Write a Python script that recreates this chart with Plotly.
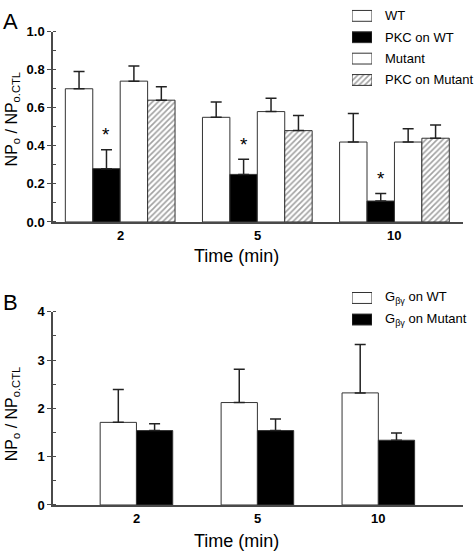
import plotly.graph_objects as go

# ---------------- data ----------------
times = ["2", "5", "10"]

# Panel A
a_names = ["WT", "PKC on WT", "Mutant", "PKC on Mutant"]
a_wt = [0.70, 0.55, 0.42]
a_wt_err = [0.09, 0.08, 0.15]
a_pkc_wt = [0.28, 0.25, 0.11]
a_pkc_wt_err = [0.10, 0.08, 0.04]
a_mut = [0.74, 0.58, 0.42]
a_mut_err = [0.08, 0.07, 0.07]
a_pkc_mut = [0.64, 0.48, 0.44]
a_pkc_mut_err = [0.07, 0.08, 0.07]
a_signif = [True, True, True]  # stars over "PKC on WT"

# Panel B
b_names = ["G<sub>βγ</sub> on WT", "G<sub>βγ</sub> on Mutant"]
b_wt = [1.71, 2.12, 2.32]
b_wt_err = [0.68, 0.69, 1.00]
b_mut = [1.54, 1.54, 1.34]
b_mut_err = [0.14, 0.24, 0.15]

# ---------------- layout helpers (pixel -> paper) ----------------
W, H = 475, 554
ML, MR, MT, MB = 53, 12, 0, 49
PW, PH = W - ML - MR, H - MT - MB


def px(x):
    return (x - ML) / PW


def py(y):
    return (H - MB - y) / PH


FONT = "Liberation Sans, Arial, sans-serif"
EDGE = "#333333"
AXC = "#4a4a4a"
HATCH = dict(fgcolor="#444444", bgcolor="white", size=4, solidity=0.4)

fig = go.Figure()
idx = list(range(len(times)))


def add_bar(x, y, err, fill, pattern, width, offset, xa, ya):
    fig.add_trace(go.Bar(
        x=x, y=y, width=width, offset=offset,
        marker=dict(color=fill, line=dict(color=EDGE, width=1),
                    pattern=dict(shape=pattern, **HATCH) if pattern else None),
        error_y=dict(type="data", array=err, arrayminus=[0] * len(err), symmetric=False,
                     color="#222222", thickness=1.5, width=5.5),
        xaxis=xa, yaxis=ya, showlegend=False, hoverinfo="skip"))


# Panel A bars (4 per group, width 0.2)
a_series = [(a_wt, a_wt_err, "white", ""), (a_pkc_wt, a_pkc_wt_err, "black", ""),
            (a_mut, a_mut_err, "white", ""), (a_pkc_mut, a_pkc_mut_err, "white", "/")]
for k, (vals, errs, fill, pat) in enumerate(a_series):
    add_bar(idx, vals, errs, fill, pat, 0.2, -0.4 + 0.2 * k, "x", "y")

# Panel B bars (2 per group, width 0.3)
b_series = [(b_wt, b_wt_err, "white"), (b_mut, b_mut_err, "black")]
for k, (vals, errs, fill) in enumerate(b_series):
    add_bar(idx, vals, errs, fill, "", 0.3, -0.3 + 0.3 * k, "x2", "y2")

# category labels placed in data coordinates under each group
tickfont = dict(family=FONT, size=13, color="black", weight="bold")
for xa, ya in (("x", "y"), ("x2", "y2")):
    for i, t in enumerate(times):
        fig.add_annotation(x=i, y=0, xref=xa, yref=ya, text=t, showarrow=False,
                           xanchor="center", yanchor="middle", yshift=-14, font=tickfont)

# stars
for i, s in enumerate(a_signif):
    if s:
        fig.add_annotation(x=i - 0.1, y=a_pkc_wt[i] + a_pkc_wt_err[i], xref="x", yref="y",
                           text="*", showarrow=False, yanchor="middle", yshift=15,
                           font=dict(family=FONT, size=19, color="black"))

# legend swatches as tiny bars on hidden axes
ROW = 21.7
a_rows = [9, 31, 52, 74]
fig.add_trace(go.Bar(
    y=list(range(len(a_names))), x=[1] * len(a_names), orientation="h", width=11 / ROW,
    marker=dict(color=["white", "black", "white", "white"], line=dict(color=EDGE, width=1),
                pattern=dict(shape=["", "", "", "/"], **HATCH)),
    xaxis="x3", yaxis="y3", showlegend=False, hoverinfo="skip"))
b_rows = [295, 317]
fig.add_trace(go.Bar(
    y=list(range(len(b_names))), x=[1] * len(b_names), orientation="h", width=11 / ROW,
    marker=dict(color=["white", "black"], line=dict(color=EDGE, width=1)),
    xaxis="x4", yaxis="y4", showlegend=False, hoverinfo="skip"))

for name, r in zip(a_names, a_rows):
    fig.add_annotation(x=px(383), y=py(r), xref="paper", yref="paper", text=name,
                       showarrow=False, xanchor="left", yanchor="middle",
                       font=dict(family=FONT, size=13, color="black"))
for name, r in zip(b_names, b_rows):
    fig.add_annotation(x=px(383), y=py(r), xref="paper", yref="paper", text=name,
                       showarrow=False, xanchor="left", yanchor="middle",
                       font=dict(family=FONT, size=13, color="black"))

# axis titles and panel letters
ytitle = "NP<sub>o</sub> / NP<sub>o.CTL</sub>"
for yc in (114, 413):
    fig.add_annotation(x=0, y=py(yc), xref="paper", yref="paper", text=ytitle, textangle=-90,
                       showarrow=False, xanchor="center", yanchor="middle", xshift=-(ML - 12),
                       font=dict(family=FONT, size=16, color="black"))
for yc in (253, 542):
    fig.add_annotation(x=px(236), y=py(yc), xref="paper", yref="paper", text="Time (min)",
                       showarrow=False, xanchor="center", yanchor="middle",
                       font=dict(family=FONT, size=18, color="black"))
for lab, (xc, yc) in zip(["A", "B"], [(10, 15), (10, 300)]):
    fig.add_annotation(x=px(xc), y=py(yc), xref="paper", yref="paper", text=lab,
                       showarrow=False, xanchor="center", yanchor="middle",
                       font=dict(family=FONT, size=22, color="black"))

xcommon = dict(showticklabels=False, ticks="", showline=True, linecolor=AXC,
               linewidth=1.5, showgrid=False, zeroline=False)
ycommon = dict(ticks="outside", ticklen=4, tickcolor=AXC, tickwidth=1.2, showline=True,
               linecolor=AXC, linewidth=1.5, showgrid=False, zeroline=False, tickfont=tickfont)

fig.update_layout(
    width=W, height=H, margin=dict(l=ML, r=MR, t=MT, b=MB),
    plot_bgcolor="white", paper_bgcolor="white", barmode="overlay", showlegend=False,
    font=dict(family=FONT, color="black"),
    xaxis=dict(domain=[0, 1], range=[-0.49, 2.50], anchor="y", **xcommon),
    yaxis=dict(domain=[py(218), py(25)], range=[0, 1.0], dtick=0.2, tickformat=".1f",
               minor=dict(dtick=0.1, ticks="inside", ticklen=3, tickcolor=AXC),
               anchor="x", **ycommon),
    xaxis2=dict(domain=[0, 1], range=[-0.69, 2.70], anchor="y2", **xcommon),
    yaxis2=dict(domain=[py(505), py(309)], range=[0, 4], dtick=1,
                minor=dict(dtick=0.5, ticks="inside", ticklen=3, tickcolor=AXC),
                anchor="x2", **ycommon),
    xaxis3=dict(domain=[px(352), px(372)], range=[0, 1], visible=False, anchor="y3"),
    yaxis3=dict(domain=[py(a_rows[-1] + 0.4 * ROW), py(a_rows[0] - 0.4 * ROW)],
                range=[3.4, -0.4], visible=False, anchor="x3"),
    xaxis4=dict(domain=[px(352), px(372)], range=[0, 1], visible=False, anchor="y4"),
    yaxis4=dict(domain=[py(b_rows[-1] + 0.4 * ROW), py(b_rows[0] - 0.4 * ROW)],
                range=[1.4, -0.4], visible=False, anchor="x4"),
)

# the page's default 8px body margin would shift and crop the fixed-size figure
fig.write_html("out.html", config={"displayModeBar": False},
               post_script="document.body.style.margin='0';")
